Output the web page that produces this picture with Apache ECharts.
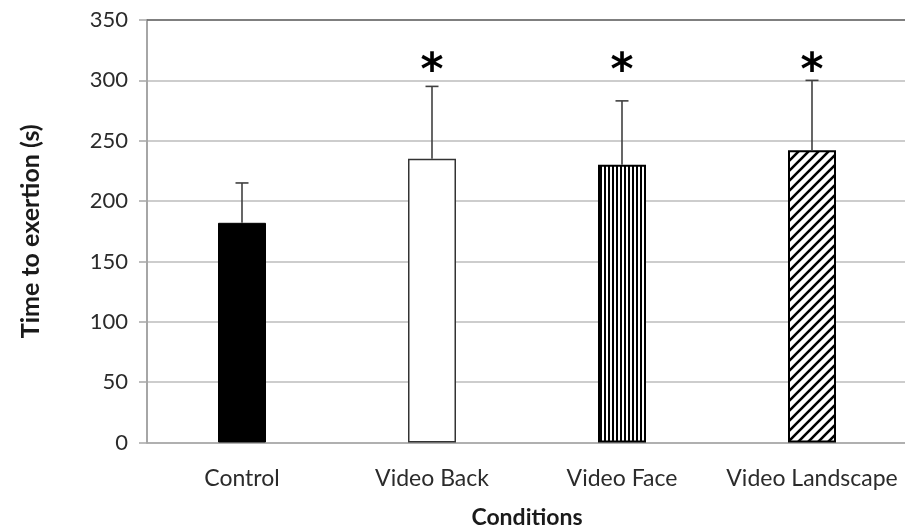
<!DOCTYPE html>
<html>
<head>
<meta charset="utf-8">
<script src="https://cdn.jsdelivr.net/npm/echarts@6/dist/echarts.min.js"></script>
<style>
  html, body { margin: 0; padding: 0; background: #fff; }
  #chart { width: 905px; height: 530px; }
</style>
</head>
<body>
<div id="chart"></div>
<script>
// Time to exertion per condition (mean, upper SD) and significance vs. control
const categories = ['Control', 'Video Back', 'Video Face', 'Video Landscape'];
const meanTime = [182, 235, 230, 242];
const sdTime = [33, 60, 53, 58];
const significant = [false, true, true, true];
const yTicks = [0, 50, 100, 150, 200, 250, 300, 350];

const STAR_LEVEL = 315;
const FONT = 'Lato, "Open Sans", sans-serif';

// Fill patterns for the bars
function stripePattern() {
  const c = document.createElement('canvas');
  c.width = 4; c.height = 4;
  const g = c.getContext('2d');
  g.fillStyle = '#fff'; g.fillRect(0, 0, 4, 4);
  g.fillStyle = '#000'; g.fillRect(0, 0, 2, 4);
  return { image: c, repeat: 'repeat' };
}
function hatchPattern() {
  const s = 10;
  const c = document.createElement('canvas');
  c.width = s; c.height = s;
  const g = c.getContext('2d');
  g.fillStyle = '#fff'; g.fillRect(0, 0, s, s);
  g.strokeStyle = '#000'; g.lineWidth = 2.6;
  g.beginPath();
  g.moveTo(-s, s); g.lineTo(s, -s);
  g.moveTo(0, 2 * s); g.lineTo(2 * s, 0);
  g.moveTo(0, s); g.lineTo(s, 0);
  g.stroke();
  return { image: c, repeat: 'repeat' };
}

const barStyles = [
  { color: '#000', borderColor: '#000', borderWidth: 1 },
  { color: '#fff', borderColor: '#333', borderWidth: 1.5 },
  { color: stripePattern(), borderColor: '#000', borderWidth: 2 },
  { color: hatchPattern(), borderColor: '#000', borderWidth: 2 }
];

const chart = echarts.init(document.getElementById('chart'), null, { renderer: 'canvas' });

chart.setOption({
  animation: false,
  backgroundColor: '#fff',
  grid: { left: 147, top: 20, width: 760, height: 422.5, outerBoundsMode: 'none', containLabel: false },
  xAxis: [{
    type: 'category',
    data: categories,
    axisLine: { show: true, lineStyle: { color: '#a6a6a6', width: 1.5 } },
    axisTick: { show: false },
    axisLabel: { color: '#2b2b2b', fontFamily: FONT, fontSize: 23, margin: 25, interval: 0 },
    name: 'Conditions',
    nameLocation: 'middle',
    nameGap: 64,
    nameTextStyle: { color: '#1a1a1a', fontFamily: FONT, fontSize: 23, fontWeight: 'bold' }
  }, {
    type: 'category',
    position: 'top',
    data: categories,
    axisLine: { show: true, lineStyle: { color: '#666', width: 1.5 } },
    axisTick: { show: false },
    axisLabel: { show: false }
  }],
  yAxis: {
    type: 'value',
    min: yTicks[0],
    max: yTicks[yTicks.length - 1],
    interval: 50,
    axisLine: { show: true, lineStyle: { color: '#a6a6a6', width: 2 } },
    axisTick: { show: true, length: 8, lineStyle: { color: '#a6a6a6', width: 1.5 } },
    axisLabel: { color: '#2b2b2b', fontFamily: FONT, fontSize: 22, margin: 19 },
    splitLine: { show: true, lineStyle: { color: '#bdbdbd', width: 1.5 } },
    name: 'Time to exertion (s)',
    nameLocation: 'middle',
    nameGap: 104,
    nameTextStyle: { color: '#1a1a1a', fontFamily: FONT, fontSize: 25, fontWeight: 'bold' }
  },
  series: [{
    type: 'bar',
    barWidth: 48,
    data: meanTime.map((v, i) => ({ value: v, itemStyle: barStyles[i] })),
    z: 2
  }, {
    type: 'custom',
    z: 3,
    data: categories.map((c, i) => [i, meanTime[i], meanTime[i] + sdTime[i], significant[i] ? 1 : 0]),
    renderItem: function (params, api) {
      const i = api.value(0);
      const base = api.coord([i, api.value(1)]);
      const top = api.coord([i, api.value(2)]);
      const half = 6.5;
      const lineStyle = { stroke: '#404040', lineWidth: 1.6 };
      const children = [
        { type: 'line', shape: { x1: base[0], y1: base[1], x2: top[0], y2: top[1] }, style: lineStyle },
        { type: 'line', shape: { x1: top[0] - half, y1: top[1], x2: top[0] + half, y2: top[1] }, style: lineStyle }
      ];
      if (api.value(3)) {
        const star = api.coord([i, STAR_LEVEL]);
        children.push({
          type: 'text',
          x: star[0], y: star[1] + 10,
          style: {
            text: '*', fill: '#000', font: 'bold 44px "DejaVu Sans", sans-serif',
            align: 'center', verticalAlign: 'middle'
          }
        });
      }
      return { type: 'group', children: children };
    }
  }]
});
</script>
</body>
</html>
